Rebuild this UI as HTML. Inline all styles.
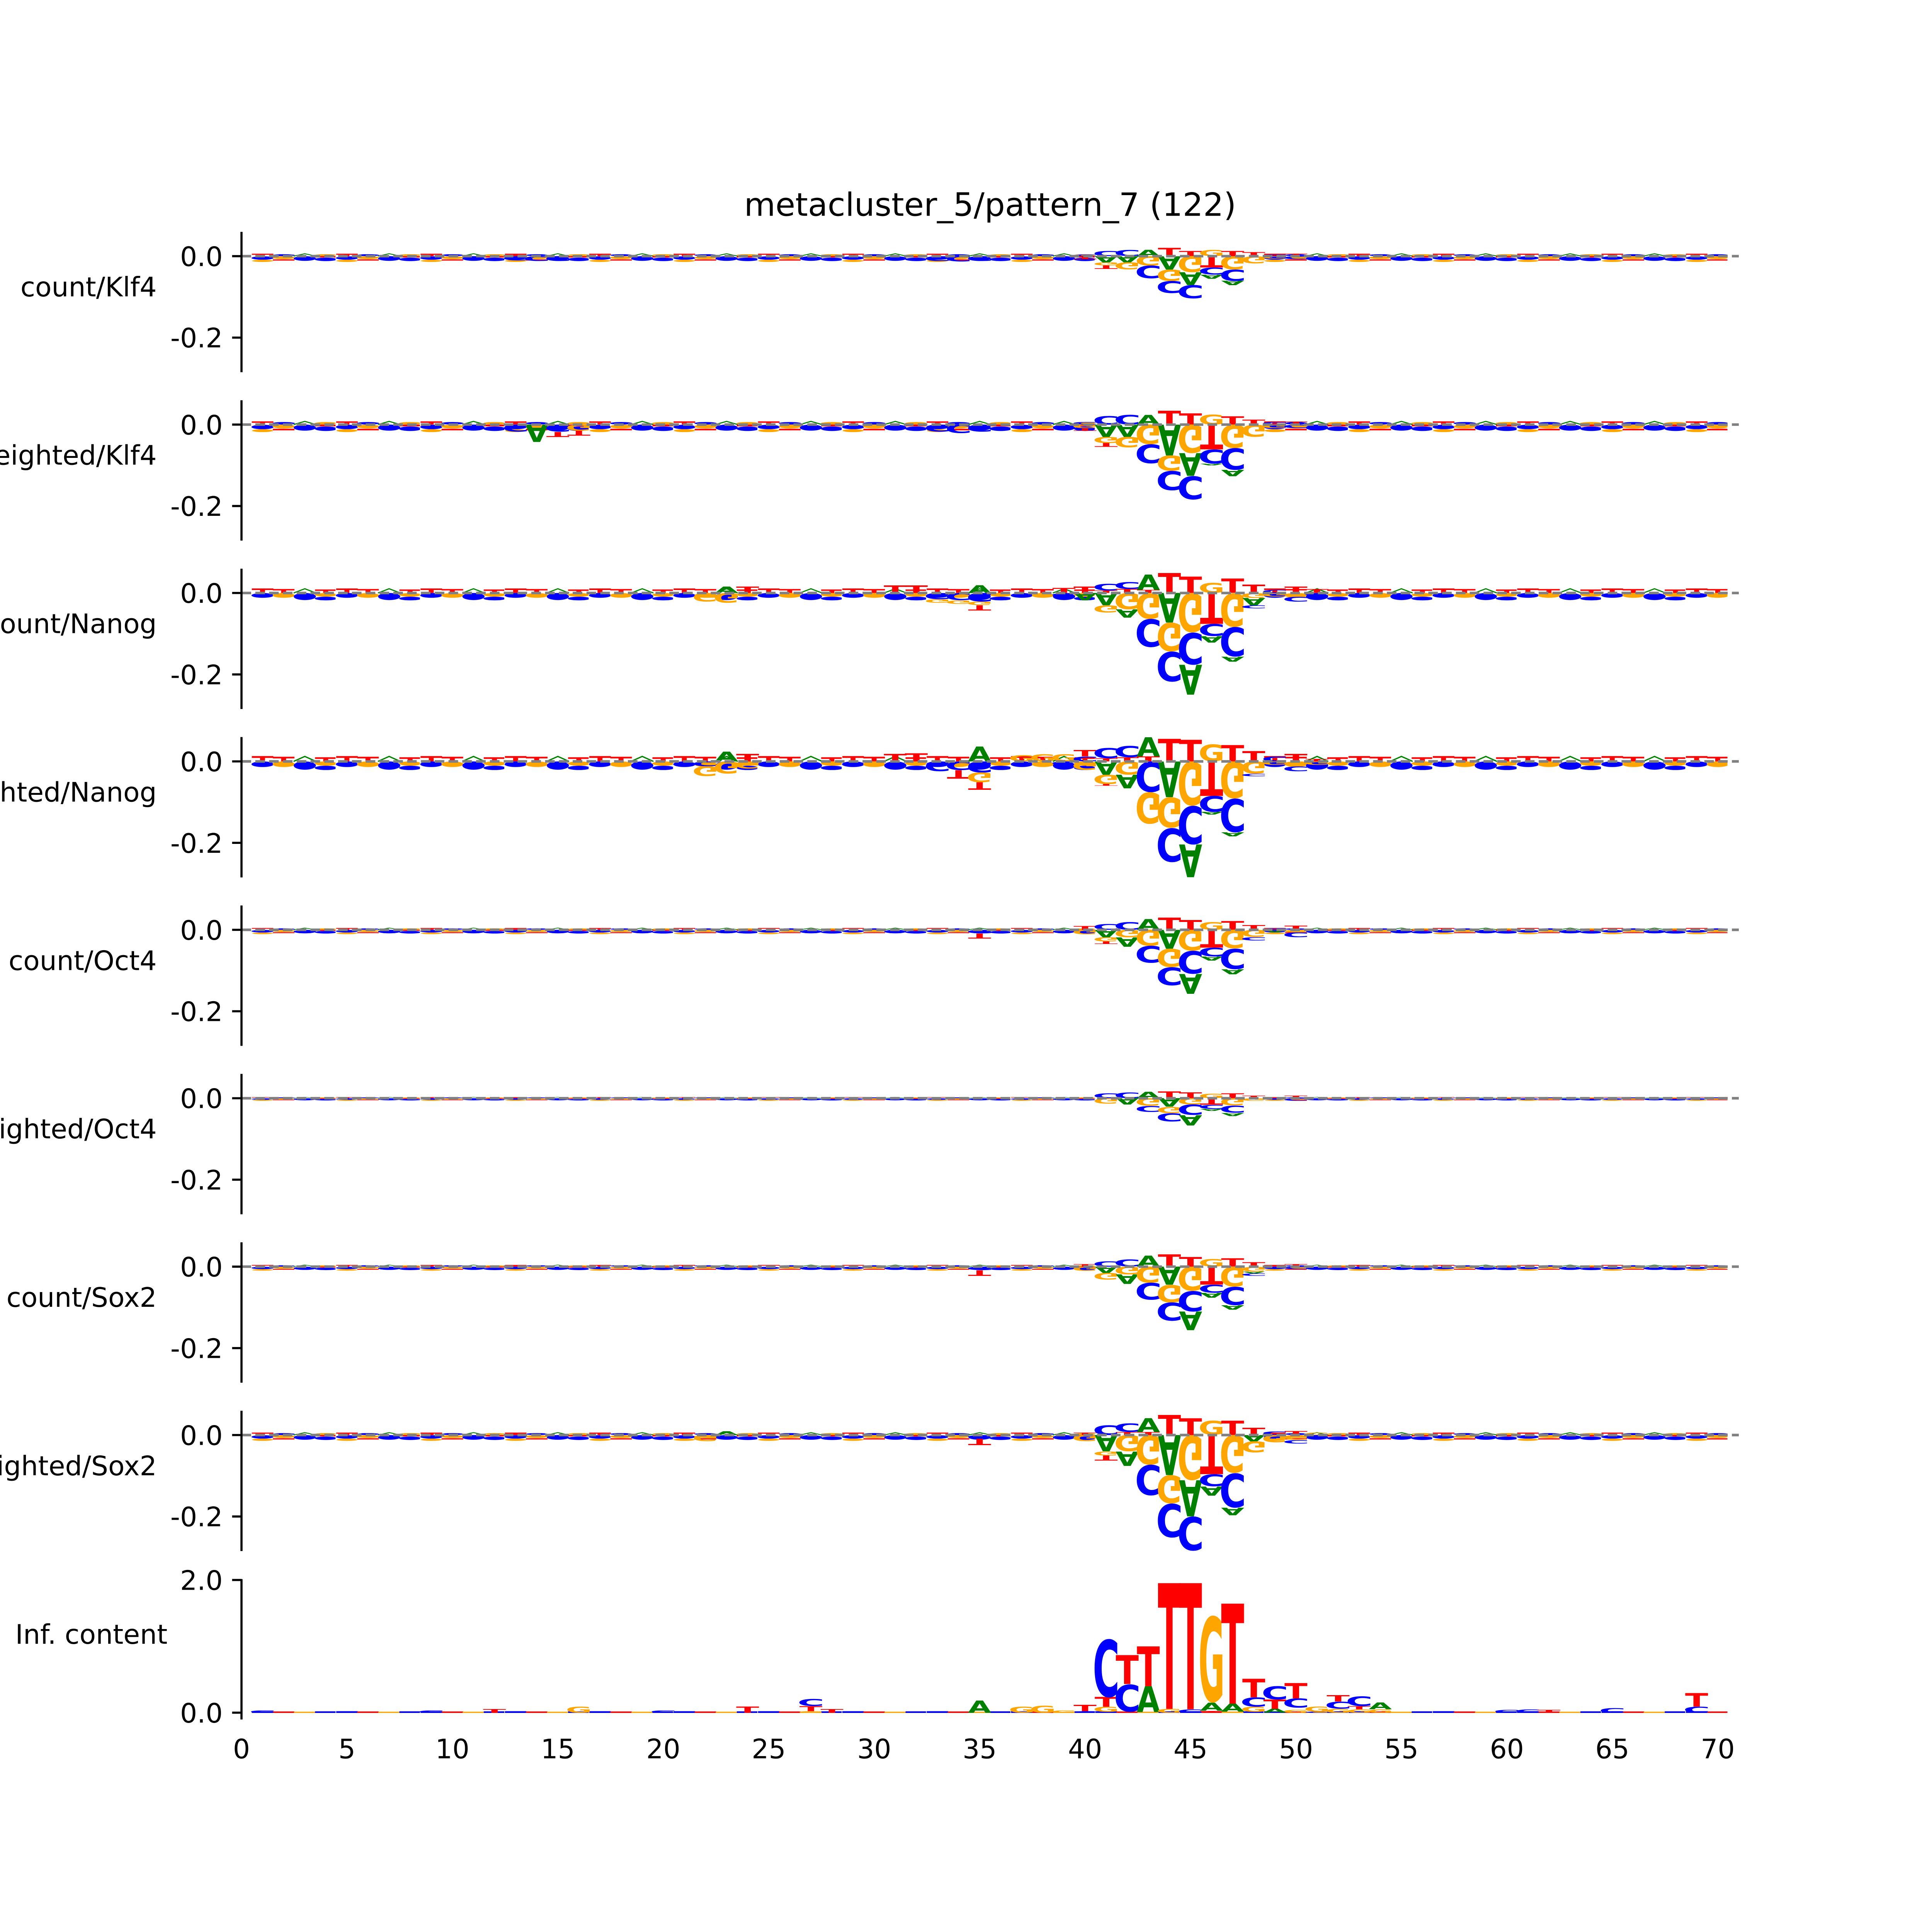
<!DOCTYPE html>
<html><head><meta charset="utf-8"><style>
html,body{margin:0;padding:0;background:#fff;overflow:hidden;width:100%;height:100%;}
svg{display:block;position:absolute;left:0;top:0;width:100vw;height:100vh;}
text{font-family:"DejaVu Sans","Liberation Sans",sans-serif;}
.L text{font-weight:bold;font-size:100px;}
.a{fill:#008000}.c{fill:#0000ff}.g{fill:#ffa500}.t{fill:#ff0000}
.tk{font-size:21.78px;fill:#000}
.ti{font-size:26.13px;fill:#000}
</style></head><body>
<svg xmlns="http://www.w3.org/2000/svg" viewBox="0 0 1568 1568" preserveAspectRatio="none">
<rect x="0" y="0" width="1568" height="1568" fill="#fff"/>
<defs>
<pattern id="bgA" patternUnits="userSpaceOnUse" x="203.87" y="0" width="68.464" height="24">
<rect x="0.5" y="10" width="17.5" height="0.9" fill="#f00"/><rect x="7.2" y="10.9" width="4" height="1.1" fill="#f00"/>
<ellipse cx="9.25" cy="13.5" rx="9" ry="1.4" fill="#00f"/><ellipse cx="9.25" cy="15.8" rx="8.5" ry="0.9" fill="#ffa500"/>
<ellipse cx="26.4" cy="11.2" rx="9" ry="0.8" fill="#00f"/><ellipse cx="26.4" cy="13.2" rx="9" ry="1.2" fill="#ffa500"/>
<rect x="17.6" y="14.6" width="17.5" height="1" fill="#f00"/>
<polyline points="34.4,12 43.5,10 52.6,12" fill="none" stroke="#008000" stroke-width="0.7"/>
<ellipse cx="43.5" cy="13.9" rx="9" ry="1.9" fill="#00f"/>
<ellipse cx="60.6" cy="11.2" rx="9" ry="0.8" fill="#ffa500"/><rect x="51.8" y="12" width="17.5" height="1.1" fill="#f00"/>
<ellipse cx="60.6" cy="14.6" rx="9" ry="1.4" fill="#00f"/>
</pattern>
<pattern id="bgB" patternUnits="userSpaceOnUse" x="203.87" y="0" width="68.464" height="24">
<rect x="0.5" y="8.8" width="17.5" height="1.1" fill="#f00"/><rect x="7.2" y="9.9" width="4" height="2.1" fill="#f00"/>
<ellipse cx="9.25" cy="13.7" rx="9" ry="1.7" fill="#00f"/>
<rect x="17.6" y="9.2" width="17.5" height="1" fill="#f00"/><rect x="24.3" y="10.2" width="4" height="1.8" fill="#f00"/>
<ellipse cx="26.4" cy="13.7" rx="9" ry="1.7" fill="#ffa500"/>
<polyline points="34.4,12 43.5,9 52.6,12" fill="none" stroke="#008000" stroke-width="0.8"/>
<ellipse cx="43.5" cy="14.5" rx="9" ry="2.5" fill="#00f"/>
<rect x="51.8" y="9.5" width="17.5" height="1" fill="#f00"/><rect x="58.5" y="10.5" width="4" height="1.5" fill="#f00"/>
<ellipse cx="60.6" cy="13.3" rx="9" ry="1.3" fill="#ffa500"/><ellipse cx="60.6" cy="15.9" rx="9" ry="1.3" fill="#00f"/>
</pattern>
<pattern id="bgC" patternUnits="userSpaceOnUse" x="203.87" y="0" width="68.464" height="24">
<rect x="0.5" y="10.6" width="17.5" height="1.4" fill="#00f"/>
<rect x="17.6" y="10.8" width="17.5" height="1.2" fill="#f00"/>
<rect x="34.7" y="11" width="17.5" height="1" fill="#ffa500"/>
<rect x="51.8" y="10.7" width="17.5" height="1.3" fill="#00f"/>
</pattern>
</defs>

<!-- Title -->
<text class="ti" x="803.6" y="175.1" text-anchor="middle">metacluster_5/pattern_7 (122)</text>

<!-- backgrounds -->
<g transform="translate(0,207.9) scale(1,1.0) translate(0,-12)"><rect x="203.87" y="0" width="684.64" height="24" fill="url(#bgA)"/><rect x="1025.44" y="0" width="376.55" height="24" fill="url(#bgA)"/></g>
<g transform="translate(0,344.58) scale(1,1.3) translate(0,-12)"><rect x="203.87" y="0" width="684.64" height="24" fill="url(#bgA)"/><rect x="1025.44" y="0" width="376.55" height="24" fill="url(#bgA)"/></g>
<g transform="translate(0,481.27) scale(1,1.15) translate(0,-12)"><rect x="203.87" y="0" width="684.64" height="24" fill="url(#bgB)"/><rect x="1025.44" y="0" width="376.55" height="24" fill="url(#bgB)"/></g>
<g transform="translate(0,617.95) scale(1,1.35) translate(0,-12)"><rect x="203.87" y="0" width="684.64" height="24" fill="url(#bgB)"/><rect x="1025.44" y="0" width="376.55" height="24" fill="url(#bgB)"/></g>
<g transform="translate(0,754.63) scale(1,0.75) translate(0,-12)"><rect x="203.87" y="0" width="684.64" height="24" fill="url(#bgA)"/><rect x="1025.44" y="0" width="376.55" height="24" fill="url(#bgA)"/></g>
<g transform="translate(0,891.32) scale(1,0.45) translate(0,-12)"><rect x="203.87" y="0" width="684.64" height="24" fill="url(#bgA)"/><rect x="1025.44" y="0" width="376.55" height="24" fill="url(#bgA)"/></g>
<g transform="translate(0,1028) scale(1,0.7) translate(0,-12)"><rect x="203.87" y="0" width="684.64" height="24" fill="url(#bgA)"/><rect x="1025.44" y="0" width="376.55" height="24" fill="url(#bgA)"/></g>
<g transform="translate(0,1164.68) scale(1,1.0) translate(0,-12)"><rect x="203.87" y="0" width="684.64" height="24" fill="url(#bgA)"/><rect x="1025.44" y="0" width="376.55" height="24" fill="url(#bgA)"/></g>
<g transform="translate(0,1390.2) translate(0,-12)"><rect x="203.87" y="0" width="1198.1" height="24" fill="url(#bgC)"/></g>

<!-- Panel 0: count/Klf4 -->
<g class="L" transform="translate(0,207.9)">
<text class="c" transform="translate(871.4,0) scale(18.5,1.5) matrix(.016026,0,0,.013228,-.088141,-.018519)">C</text>
<text class="t" transform="translate(871.4,0) scale(18.5,-2.5) matrix(.014837,0,0,.013717,-.007418,0)">T</text>
<text class="c" transform="translate(888.51,0) scale(18.5,4.2) matrix(.016026,0,0,.013228,-.088141,-.018519)">C</text>
<text class="a" transform="translate(888.51,0) scale(18.5,-5) matrix(.013193,0,0,.013717,-.010554,0)">A</text>
<text class="g" transform="translate(888.51,5) scale(18.5,-2.5) matrix(.014025,0,0,.013228,-.077139,-.018519)">G</text>
<text class="t" transform="translate(888.51,7.5) scale(18.5,-2.8) matrix(.014837,0,0,.013717,-.007418,0)">T</text>
<text class="c" transform="translate(905.63,0) scale(18.5,5) matrix(.016026,0,0,.013228,-.088141,-.018519)">C</text>
<text class="a" transform="translate(905.63,0) scale(18.5,-5) matrix(.013193,0,0,.013717,-.010554,0)">A</text>
<text class="g" transform="translate(905.63,5) scale(18.5,-5.8) matrix(.014025,0,0,.013228,-.077139,-.018519)">G</text>
<text class="a" transform="translate(922.75,0) scale(18.5,5) matrix(.013193,0,0,.013717,-.010554,0)">A</text>
<text class="g" transform="translate(922.75,0) scale(18.5,-7.5) matrix(.014025,0,0,.013228,-.077139,-.018519)">G</text>
<text class="c" transform="translate(922.75,7.5) scale(18.5,-10.5) matrix(.016026,0,0,.013228,-.088141,-.018519)">C</text>
<text class="t" transform="translate(939.86,0) scale(18.5,6.7) matrix(.014837,0,0,.013717,-.007418,0)">T</text>
<text class="a" transform="translate(939.86,0) scale(18.5,-10.8) matrix(.013193,0,0,.013717,-.010554,0)">A</text>
<text class="g" transform="translate(939.86,10.8) scale(18.5,-9.2) matrix(.014025,0,0,.013228,-.077139,-.018519)">G</text>
<text class="c" transform="translate(939.86,20) scale(18.5,-10) matrix(.016026,0,0,.013228,-.088141,-.018519)">C</text>
<text class="t" transform="translate(956.98,0) scale(18.5,4.2) matrix(.014837,0,0,.013717,-.007418,0)">T</text>
<text class="g" transform="translate(956.98,0) scale(18.5,-13) matrix(.014025,0,0,.013228,-.077139,-.018519)">G</text>
<text class="a" transform="translate(956.98,13) scale(18.5,-10.3) matrix(.013193,0,0,.013717,-.010554,0)">A</text>
<text class="c" transform="translate(956.98,23.3) scale(18.5,-10.9) matrix(.016026,0,0,.013228,-.088141,-.018519)">C</text>
<text class="g" transform="translate(974.09,0) scale(18.5,5) matrix(.014025,0,0,.013228,-.077139,-.018519)">G</text>
<text class="t" transform="translate(974.09,0) scale(18.5,-9.2) matrix(.014837,0,0,.013717,-.007418,0)">T</text>
<text class="c" transform="translate(974.09,9.2) scale(18.5,-5.8) matrix(.016026,0,0,.013228,-.088141,-.018519)">C</text>
<text class="a" transform="translate(974.09,15) scale(18.5,-3.3) matrix(.013193,0,0,.013717,-.010554,0)">A</text>
<text class="t" transform="translate(991.21,0) scale(18.5,4.2) matrix(.014837,0,0,.013717,-.007418,0)">T</text>
<text class="g" transform="translate(991.21,0) scale(18.5,-10.8) matrix(.014025,0,0,.013228,-.077139,-.018519)">G</text>
<text class="c" transform="translate(991.21,10.8) scale(18.5,-9.2) matrix(.016026,0,0,.013228,-.088141,-.018519)">C</text>
<text class="a" transform="translate(991.21,20) scale(18.5,-3.7) matrix(.013193,0,0,.013717,-.010554,0)">A</text>
<text class="t" transform="translate(1008.33,0) scale(18.5,3.3) matrix(.014837,0,0,.013717,-.007418,0)">T</text>
<text class="g" transform="translate(1008.33,0) scale(18.5,-5.8) matrix(.014025,0,0,.013228,-.077139,-.018519)">G</text>
<text class="c" transform="translate(1025.44,0) scale(18.5,1.5) matrix(.016026,0,0,.013228,-.088141,-.018519)">C</text>
<text class="g" transform="translate(1025.44,0) scale(18.5,-2) matrix(.014025,0,0,.013228,-.077139,-.018519)">G</text>
<text class="t" transform="translate(1042.56,0) scale(18.5,2) matrix(.014837,0,0,.013717,-.007418,0)">T</text>
<text class="c" transform="translate(1042.56,0) scale(18.5,-2.5) matrix(.016026,0,0,.013228,-.088141,-.018519)">C</text>
<text class="c" transform="translate(409.27,0) scale(18.5,-3.5) matrix(.016026,0,0,.013228,-.088141,-.018519)">C</text>
<text class="c" transform="translate(426.38,0) scale(18.5,-4) matrix(.016026,0,0,.013228,-.088141,-.018519)">C</text>
<text class="c" transform="translate(443.5,0) scale(18.5,-4) matrix(.016026,0,0,.013228,-.088141,-.018519)">C</text>
<text class="c" transform="translate(751.58,0) scale(18.5,-4) matrix(.016026,0,0,.013228,-.088141,-.018519)">C</text>
<text class="c" transform="translate(768.7,0) scale(18.5,-4.5) matrix(.016026,0,0,.013228,-.088141,-.018519)">C</text>
<text class="c" transform="translate(785.82,0) scale(18.5,-4) matrix(.016026,0,0,.013228,-.088141,-.018519)">C</text>
</g>

<!-- Panel 1: weighted/Klf4 -->
<g class="L" transform="translate(0,344.58)">
<text class="c" transform="translate(871.4,0) scale(18.5,2) matrix(.016026,0,0,.013228,-.088141,-.018519)">C</text>
<text class="g" transform="translate(871.4,0) scale(18.5,-3) matrix(.014025,0,0,.013228,-.077139,-.018519)">G</text>
<text class="t" transform="translate(871.4,3) scale(18.5,-2) matrix(.014837,0,0,.013717,-.007418,0)">T</text>
<text class="c" transform="translate(888.51,0) scale(18.5,7) matrix(.016026,0,0,.013228,-.088141,-.018519)">C</text>
<text class="a" transform="translate(888.51,0) scale(18.5,-10) matrix(.013193,0,0,.013717,-.010554,0)">A</text>
<text class="g" transform="translate(888.51,10) scale(18.5,-5) matrix(.014025,0,0,.013228,-.077139,-.018519)">G</text>
<text class="t" transform="translate(888.51,15) scale(18.5,-3) matrix(.014837,0,0,.013717,-.007418,0)">T</text>
<text class="c" transform="translate(905.63,0) scale(18.5,8) matrix(.016026,0,0,.013228,-.088141,-.018519)">C</text>
<text class="a" transform="translate(905.63,0) scale(18.5,-10) matrix(.013193,0,0,.013717,-.010554,0)">A</text>
<text class="g" transform="translate(905.63,10) scale(18.5,-8.7) matrix(.014025,0,0,.013228,-.077139,-.018519)">G</text>
<text class="a" transform="translate(922.75,0) scale(18.5,8) matrix(.013193,0,0,.013717,-.010554,0)">A</text>
<text class="g" transform="translate(922.75,0) scale(18.5,-16) matrix(.014025,0,0,.013228,-.077139,-.018519)">G</text>
<text class="c" transform="translate(922.75,16) scale(18.5,-15.7) matrix(.016026,0,0,.013228,-.088141,-.018519)">C</text>
<text class="t" transform="translate(939.86,0) scale(18.5,11.2) matrix(.014837,0,0,.013717,-.007418,0)">T</text>
<text class="a" transform="translate(939.86,0) scale(18.5,-25) matrix(.013193,0,0,.013717,-.010554,0)">A</text>
<text class="g" transform="translate(939.86,25) scale(18.5,-12.5) matrix(.014025,0,0,.013228,-.077139,-.018519)">G</text>
<text class="c" transform="translate(939.86,37.5) scale(18.5,-15.8) matrix(.016026,0,0,.013228,-.088141,-.018519)">C</text>
<text class="t" transform="translate(956.98,0) scale(18.5,9.2) matrix(.014837,0,0,.013717,-.007418,0)">T</text>
<text class="g" transform="translate(956.98,0) scale(18.5,-23.3) matrix(.014025,0,0,.013228,-.077139,-.018519)">G</text>
<text class="a" transform="translate(956.98,23.3) scale(18.5,-18.4) matrix(.013193,0,0,.013717,-.010554,0)">A</text>
<text class="c" transform="translate(956.98,41.7) scale(18.5,-19.1) matrix(.016026,0,0,.013228,-.088141,-.018519)">C</text>
<text class="g" transform="translate(974.09,0) scale(18.5,8.3) matrix(.014025,0,0,.013228,-.077139,-.018519)">G</text>
<text class="t" transform="translate(974.09,0) scale(18.5,-20) matrix(.014837,0,0,.013717,-.007418,0)">T</text>
<text class="c" transform="translate(974.09,20) scale(18.5,-11.7) matrix(.016026,0,0,.013228,-.088141,-.018519)">C</text>
<text class="a" transform="translate(974.09,31.7) scale(18.5,-1.5) matrix(.013193,0,0,.013717,-.010554,0)">A</text>
<text class="t" transform="translate(991.21,0) scale(18.5,6.7) matrix(.014837,0,0,.013717,-.007418,0)">T</text>
<text class="g" transform="translate(991.21,0) scale(18.5,-19) matrix(.014025,0,0,.013228,-.077139,-.018519)">G</text>
<text class="c" transform="translate(991.21,19) scale(18.5,-17.7) matrix(.016026,0,0,.013228,-.088141,-.018519)">C</text>
<text class="a" transform="translate(991.21,36.7) scale(18.5,-5) matrix(.013193,0,0,.013717,-.010554,0)">A</text>
<text class="t" transform="translate(1008.33,0) scale(18.5,4) matrix(.014837,0,0,.013717,-.007418,0)">T</text>
<text class="g" transform="translate(1008.33,0) scale(18.5,-10) matrix(.014025,0,0,.013228,-.077139,-.018519)">G</text>
<text class="c" transform="translate(1025.44,0) scale(18.5,2) matrix(.016026,0,0,.013228,-.088141,-.018519)">C</text>
<text class="g" transform="translate(1025.44,0) scale(18.5,-3) matrix(.014025,0,0,.013228,-.077139,-.018519)">G</text>
<text class="t" transform="translate(1042.56,0) scale(18.5,2.5) matrix(.014837,0,0,.013717,-.007418,0)">T</text>
<text class="c" transform="translate(1042.56,0) scale(18.5,-3) matrix(.016026,0,0,.013228,-.088141,-.018519)">C</text>
<text class="c" transform="translate(409.27,0) scale(18.5,-6) matrix(.016026,0,0,.013228,-.088141,-.018519)">C</text>
<text class="a" transform="translate(426.38,0) scale(18.5,-14) matrix(.013193,0,0,.013717,-.010554,0)">A</text>
<text class="c" transform="translate(443.5,0) scale(18.5,-6) matrix(.016026,0,0,.013228,-.088141,-.018519)">C</text>
<text class="t" transform="translate(443.5,6) scale(18.5,-4) matrix(.014837,0,0,.013717,-.007418,0)">T</text>
<text class="g" transform="translate(460.61,0) scale(18.5,-5) matrix(.014025,0,0,.013228,-.077139,-.018519)">G</text>
<text class="t" transform="translate(460.61,5) scale(18.5,-4) matrix(.014837,0,0,.013717,-.007418,0)">T</text>
<text class="c" transform="translate(751.58,0) scale(18.5,-6) matrix(.016026,0,0,.013228,-.088141,-.018519)">C</text>
<text class="c" transform="translate(768.7,0) scale(18.5,-7) matrix(.016026,0,0,.013228,-.088141,-.018519)">C</text>
<text class="c" transform="translate(785.82,0) scale(18.5,-6) matrix(.016026,0,0,.013228,-.088141,-.018519)">C</text>
</g>

<!-- Panel 2: count/Nanog -->
<g class="L" transform="translate(0,481.27)">
<text class="t" transform="translate(854.28,0) scale(18.5,4) matrix(.014837,0,0,.013717,-.007418,0)">T</text>
<text class="c" transform="translate(854.28,0) scale(18.5,-3) matrix(.016026,0,0,.013228,-.088141,-.018519)">C</text>
<text class="t" transform="translate(871.4,0) scale(18.5,5) matrix(.014837,0,0,.013717,-.007418,0)">T</text>
<text class="a" transform="translate(871.4,0) scale(18.5,-5.8) matrix(.013193,0,0,.013717,-.010554,0)">A</text>
<text class="t" transform="translate(888.51,0) scale(18.5,2) matrix(.014837,0,0,.013717,-.007418,0)">T</text>
<text class="c" transform="translate(888.51,-2) scale(18.5,5.5) matrix(.016026,0,0,.013228,-.088141,-.018519)">C</text>
<text class="a" transform="translate(888.51,0) scale(18.5,-10) matrix(.013193,0,0,.013717,-.010554,0)">A</text>
<text class="g" transform="translate(888.51,10) scale(18.5,-6) matrix(.014025,0,0,.013228,-.077139,-.018519)">G</text>
<text class="t" transform="translate(905.63,0) scale(18.5,3.3) matrix(.014837,0,0,.013717,-.007418,0)">T</text>
<text class="c" transform="translate(905.63,-3.3) scale(18.5,5.7) matrix(.016026,0,0,.013228,-.088141,-.018519)">C</text>
<text class="g" transform="translate(905.63,0) scale(18.5,-13.3) matrix(.014025,0,0,.013228,-.077139,-.018519)">G</text>
<text class="a" transform="translate(905.63,13.3) scale(18.5,-6.7) matrix(.013193,0,0,.013717,-.010554,0)">A</text>
<text class="t" transform="translate(922.75,0) scale(18.5,2.5) matrix(.014837,0,0,.013717,-.007418,0)">T</text>
<text class="a" transform="translate(922.75,-2.5) scale(18.5,12.5) matrix(.013193,0,0,.013717,-.010554,0)">A</text>
<text class="g" transform="translate(922.75,0) scale(18.5,-21) matrix(.014025,0,0,.013228,-.077139,-.018519)">G</text>
<text class="c" transform="translate(922.75,21) scale(18.5,-23) matrix(.016026,0,0,.013228,-.088141,-.018519)">C</text>
<text class="t" transform="translate(939.86,0) scale(18.5,16) matrix(.014837,0,0,.013717,-.007418,0)">T</text>
<text class="a" transform="translate(939.86,0) scale(18.5,-24) matrix(.013193,0,0,.013717,-.010554,0)">A</text>
<text class="g" transform="translate(939.86,24) scale(18.5,-23.5) matrix(.014025,0,0,.013228,-.077139,-.018519)">G</text>
<text class="c" transform="translate(939.86,47.5) scale(18.5,-24.5) matrix(.016026,0,0,.013228,-.088141,-.018519)">C</text>
<text class="t" transform="translate(956.98,0) scale(18.5,13.3) matrix(.014837,0,0,.013717,-.007418,0)">T</text>
<text class="g" transform="translate(956.98,0) scale(18.5,-32) matrix(.014025,0,0,.013228,-.077139,-.018519)">G</text>
<text class="c" transform="translate(956.98,32) scale(18.5,-26.3) matrix(.016026,0,0,.013228,-.088141,-.018519)">C</text>
<text class="a" transform="translate(956.98,58.3) scale(18.5,-24.2) matrix(.013193,0,0,.013717,-.010554,0)">A</text>
<text class="g" transform="translate(974.09,0) scale(18.5,8.3) matrix(.014025,0,0,.013228,-.077139,-.018519)">G</text>
<text class="t" transform="translate(974.09,0) scale(18.5,-25) matrix(.014837,0,0,.013717,-.007418,0)">T</text>
<text class="c" transform="translate(974.09,25) scale(18.5,-10) matrix(.016026,0,0,.013228,-.088141,-.018519)">C</text>
<text class="a" transform="translate(974.09,35) scale(18.5,-5) matrix(.013193,0,0,.013717,-.010554,0)">A</text>
<text class="t" transform="translate(991.21,0) scale(18.5,11.7) matrix(.014837,0,0,.013717,-.007418,0)">T</text>
<text class="g" transform="translate(991.21,0) scale(18.5,-27.5) matrix(.014025,0,0,.013228,-.077139,-.018519)">G</text>
<text class="c" transform="translate(991.21,27.5) scale(18.5,-24.2) matrix(.016026,0,0,.013228,-.088141,-.018519)">C</text>
<text class="a" transform="translate(991.21,51.7) scale(18.5,-4.1) matrix(.013193,0,0,.013717,-.010554,0)">A</text>
<text class="t" transform="translate(1008.33,0) scale(18.5,6.7) matrix(.014837,0,0,.013717,-.007418,0)">T</text>
<text class="g" transform="translate(1008.33,0) scale(18.5,-4) matrix(.014025,0,0,.013228,-.077139,-.018519)">G</text>
<text class="a" transform="translate(1008.33,4) scale(18.5,-6) matrix(.013193,0,0,.013717,-.010554,0)">A</text>
<text class="c" transform="translate(1008.33,10) scale(18.5,-2.5) matrix(.016026,0,0,.013228,-.088141,-.018519)">C</text>
<text class="c" transform="translate(1025.44,0) scale(18.5,2.5) matrix(.016026,0,0,.013228,-.088141,-.018519)">C</text>
<text class="g" transform="translate(1025.44,0) scale(18.5,-3) matrix(.014025,0,0,.013228,-.077139,-.018519)">G</text>
<text class="t" transform="translate(1042.56,0) scale(18.5,5) matrix(.014837,0,0,.013717,-.007418,0)">T</text>
<text class="g" transform="translate(1042.56,0) scale(18.5,-3) matrix(.014025,0,0,.013228,-.077139,-.018519)">G</text>
<text class="c" transform="translate(1042.56,3) scale(18.5,-4) matrix(.016026,0,0,.013228,-.088141,-.018519)">C</text>
<text class="t" transform="translate(1059.67,0) scale(18.5,3) matrix(.014837,0,0,.013717,-.007418,0)">T</text>
<text class="c" transform="translate(1059.67,0) scale(18.5,-2) matrix(.016026,0,0,.013228,-.088141,-.018519)">C</text>
<text class="g" transform="translate(563.31,0) scale(18.5,-7) matrix(.014025,0,0,.013228,-.077139,-.018519)">G</text>
<text class="a" transform="translate(580.42,0) scale(18.5,5) matrix(.013193,0,0,.013717,-.010554,0)">A</text>
<text class="g" transform="translate(580.42,0) scale(18.5,-8) matrix(.014025,0,0,.013228,-.077139,-.018519)">G</text>
<text class="t" transform="translate(597.54,0) scale(18.5,5) matrix(.014837,0,0,.013717,-.007418,0)">T</text>
<text class="t" transform="translate(717.35,0) scale(18.5,6) matrix(.014837,0,0,.013717,-.007418,0)">T</text>
<text class="t" transform="translate(734.47,0) scale(18.5,6) matrix(.014837,0,0,.013717,-.007418,0)">T</text>
<text class="c" transform="translate(751.58,0) scale(18.5,-5) matrix(.016026,0,0,.013228,-.088141,-.018519)">C</text>
<text class="g" transform="translate(751.58,5) scale(18.5,-3) matrix(.014025,0,0,.013228,-.077139,-.018519)">G</text>
<text class="c" transform="translate(768.7,0) scale(18.5,-6) matrix(.016026,0,0,.013228,-.088141,-.018519)">C</text>
<text class="g" transform="translate(768.7,6) scale(18.5,-3) matrix(.014025,0,0,.013228,-.077139,-.018519)">G</text>
<text class="a" transform="translate(785.82,0) scale(18.5,6.3) matrix(.013193,0,0,.013717,-.010554,0)">A</text>
<text class="c" transform="translate(785.82,0) scale(18.5,-7) matrix(.016026,0,0,.013228,-.088141,-.018519)">C</text>
<text class="g" transform="translate(785.82,7) scale(18.5,-3) matrix(.014025,0,0,.013228,-.077139,-.018519)">G</text>
<text class="t" transform="translate(785.82,10) scale(18.5,-4.3) matrix(.014837,0,0,.013717,-.007418,0)">T</text>
</g>

<!-- Panel 3: weighted/Nanog -->
<g class="L" transform="translate(0,617.95)">
<text class="g" transform="translate(854.28,0) scale(18.5,6) matrix(.014025,0,0,.013228,-.077139,-.018519)">G</text>
<text class="c" transform="translate(854.28,0) scale(18.5,-3) matrix(.016026,0,0,.013228,-.088141,-.018519)">C</text>
<text class="c" transform="translate(871.4,0) scale(18.5,4) matrix(.016026,0,0,.013228,-.088141,-.018519)">C</text>
<text class="t" transform="translate(871.4,-4) scale(18.5,5) matrix(.014837,0,0,.013717,-.007418,0)">T</text>
<text class="g" transform="translate(871.4,0) scale(18.5,-6.7) matrix(.014025,0,0,.013228,-.077139,-.018519)">G</text>
<text class="t" transform="translate(888.51,0) scale(18.5,2.5) matrix(.014837,0,0,.013717,-.007418,0)">T</text>
<text class="c" transform="translate(888.51,-2.5) scale(18.5,8.5) matrix(.016026,0,0,.013228,-.088141,-.018519)">C</text>
<text class="a" transform="translate(888.51,0) scale(18.5,-10.8) matrix(.013193,0,0,.013717,-.010554,0)">A</text>
<text class="g" transform="translate(888.51,10.8) scale(18.5,-7.5) matrix(.014025,0,0,.013228,-.077139,-.018519)">G</text>
<text class="t" transform="translate(888.51,18.3) scale(18.5,-1.5) matrix(.014837,0,0,.013717,-.007418,0)">T</text>
<text class="t" transform="translate(905.63,0) scale(18.5,3.3) matrix(.014837,0,0,.013717,-.007418,0)">T</text>
<text class="c" transform="translate(905.63,-3.3) scale(18.5,9.2) matrix(.016026,0,0,.013228,-.088141,-.018519)">C</text>
<text class="g" transform="translate(905.63,0) scale(18.5,-10.8) matrix(.014025,0,0,.013228,-.077139,-.018519)">G</text>
<text class="a" transform="translate(905.63,10.8) scale(18.5,-10.9) matrix(.013193,0,0,.013717,-.010554,0)">A</text>
<text class="t" transform="translate(922.75,0) scale(18.5,4) matrix(.014837,0,0,.013717,-.007418,0)">T</text>
<text class="a" transform="translate(922.75,-4) scale(18.5,15.5) matrix(.013193,0,0,.013717,-.010554,0)">A</text>
<text class="c" transform="translate(922.75,0) scale(18.5,-25) matrix(.016026,0,0,.013228,-.088141,-.018519)">C</text>
<text class="g" transform="translate(922.75,25) scale(18.5,-25.8) matrix(.014025,0,0,.013228,-.077139,-.018519)">G</text>
<text class="t" transform="translate(939.86,0) scale(18.5,18.3) matrix(.014837,0,0,.013717,-.007418,0)">T</text>
<text class="a" transform="translate(939.86,0) scale(18.5,-29) matrix(.013193,0,0,.013717,-.010554,0)">A</text>
<text class="g" transform="translate(939.86,29) scale(18.5,-25) matrix(.014025,0,0,.013228,-.077139,-.018519)">G</text>
<text class="c" transform="translate(939.86,54) scale(18.5,-27.7) matrix(.016026,0,0,.013228,-.088141,-.018519)">C</text>
<text class="t" transform="translate(956.98,0) scale(18.5,17.5) matrix(.014837,0,0,.013717,-.007418,0)">T</text>
<text class="g" transform="translate(956.98,0) scale(18.5,-36) matrix(.014025,0,0,.013228,-.077139,-.018519)">G</text>
<text class="c" transform="translate(956.98,36) scale(18.5,-31.5) matrix(.016026,0,0,.013228,-.088141,-.018519)">C</text>
<text class="a" transform="translate(956.98,67.5) scale(18.5,-26.5) matrix(.013193,0,0,.013717,-.010554,0)">A</text>
<text class="g" transform="translate(974.09,0) scale(18.5,14) matrix(.014025,0,0,.013228,-.077139,-.018519)">G</text>
<text class="t" transform="translate(974.09,0) scale(18.5,-28) matrix(.014837,0,0,.013717,-.007418,0)">T</text>
<text class="c" transform="translate(974.09,28) scale(18.5,-13) matrix(.016026,0,0,.013228,-.088141,-.018519)">C</text>
<text class="a" transform="translate(974.09,41) scale(18.5,-2.3) matrix(.013193,0,0,.013717,-.010554,0)">A</text>
<text class="t" transform="translate(991.21,0) scale(18.5,13.3) matrix(.014837,0,0,.013717,-.007418,0)">T</text>
<text class="g" transform="translate(991.21,0) scale(18.5,-30) matrix(.014025,0,0,.013228,-.077139,-.018519)">G</text>
<text class="c" transform="translate(991.21,30) scale(18.5,-27.5) matrix(.016026,0,0,.013228,-.088141,-.018519)">C</text>
<text class="a" transform="translate(991.21,57.5) scale(18.5,-3.3) matrix(.013193,0,0,.013717,-.010554,0)">A</text>
<text class="t" transform="translate(1008.33,0) scale(18.5,8.3) matrix(.014837,0,0,.013717,-.007418,0)">T</text>
<text class="g" transform="translate(1008.33,0) scale(18.5,-10) matrix(.014025,0,0,.013228,-.077139,-.018519)">G</text>
<text class="c" transform="translate(1008.33,10) scale(18.5,-2) matrix(.016026,0,0,.013228,-.088141,-.018519)">C</text>
<text class="c" transform="translate(1025.44,0) scale(18.5,4) matrix(.016026,0,0,.013228,-.088141,-.018519)">C</text>
<text class="g" transform="translate(1025.44,0) scale(18.5,-3) matrix(.014025,0,0,.013228,-.077139,-.018519)">G</text>
<text class="t" transform="translate(1042.56,0) scale(18.5,6) matrix(.014837,0,0,.013717,-.007418,0)">T</text>
<text class="g" transform="translate(1042.56,0) scale(18.5,-4) matrix(.014025,0,0,.013228,-.077139,-.018519)">G</text>
<text class="c" transform="translate(1042.56,4) scale(18.5,-4) matrix(.016026,0,0,.013228,-.088141,-.018519)">C</text>
<text class="t" transform="translate(1059.67,0) scale(18.5,2) matrix(.014837,0,0,.013717,-.007418,0)">T</text>
<text class="g" transform="translate(1059.67,0) scale(18.5,-3) matrix(.014025,0,0,.013228,-.077139,-.018519)">G</text>
<text class="c" transform="translate(563.31,0) scale(18.5,-4) matrix(.016026,0,0,.013228,-.088141,-.018519)">C</text>
<text class="g" transform="translate(563.31,4) scale(18.5,-8) matrix(.014025,0,0,.013228,-.077139,-.018519)">G</text>
<text class="a" transform="translate(580.42,0) scale(18.5,8) matrix(.013193,0,0,.013717,-.010554,0)">A</text>
<text class="g" transform="translate(580.42,0) scale(18.5,-10) matrix(.014025,0,0,.013228,-.077139,-.018519)">G</text>
<text class="t" transform="translate(597.54,0) scale(18.5,6) matrix(.014837,0,0,.013717,-.007418,0)">T</text>
<text class="g" transform="translate(597.54,0) scale(18.5,-6) matrix(.014025,0,0,.013228,-.077139,-.018519)">G</text>
<text class="t" transform="translate(717.35,0) scale(18.5,6) matrix(.014837,0,0,.013717,-.007418,0)">T</text>
<text class="t" transform="translate(734.47,0) scale(18.5,6.5) matrix(.014837,0,0,.013717,-.007418,0)">T</text>
<text class="c" transform="translate(751.58,0) scale(18.5,-8) matrix(.016026,0,0,.013228,-.088141,-.018519)">C</text>
<text class="c" transform="translate(768.7,0) scale(18.5,-7) matrix(.016026,0,0,.013228,-.088141,-.018519)">C</text>
<text class="t" transform="translate(768.7,7) scale(18.5,-7) matrix(.014837,0,0,.013717,-.007418,0)">T</text>
<text class="a" transform="translate(785.82,0) scale(18.5,12) matrix(.013193,0,0,.013717,-.010554,0)">A</text>
<text class="c" transform="translate(785.82,0) scale(18.5,-9) matrix(.016026,0,0,.013228,-.088141,-.018519)">C</text>
<text class="g" transform="translate(785.82,9) scale(18.5,-8) matrix(.014025,0,0,.013228,-.077139,-.018519)">G</text>
<text class="t" transform="translate(785.82,17) scale(18.5,-6) matrix(.014837,0,0,.013717,-.007418,0)">T</text>
<text class="g" transform="translate(820.05,0) scale(18.5,5) matrix(.014025,0,0,.013228,-.077139,-.018519)">G</text>
<text class="g" transform="translate(837.17,0) scale(18.5,6) matrix(.014025,0,0,.013228,-.077139,-.018519)">G</text>
</g>

<!-- Panel 4: count/Oct4 -->
<g class="L" transform="translate(0,754.63)">
<text class="t" transform="translate(871.4,0) scale(18.5,3) matrix(.014837,0,0,.013717,-.007418,0)">T</text>
<text class="g" transform="translate(871.4,0) scale(18.5,-3.7) matrix(.014025,0,0,.013228,-.077139,-.018519)">G</text>
<text class="c" transform="translate(888.51,0) scale(18.5,4.7) matrix(.016026,0,0,.013228,-.088141,-.018519)">C</text>
<text class="a" transform="translate(888.51,0) scale(18.5,-6) matrix(.013193,0,0,.013717,-.010554,0)">A</text>
<text class="g" transform="translate(888.51,6) scale(18.5,-3.5) matrix(.014025,0,0,.013228,-.077139,-.018519)">G</text>
<text class="t" transform="translate(888.51,9.5) scale(18.5,-2) matrix(.014837,0,0,.013717,-.007418,0)">T</text>
<text class="c" transform="translate(905.63,0) scale(18.5,6.3) matrix(.016026,0,0,.013228,-.088141,-.018519)">C</text>
<text class="g" transform="translate(905.63,0) scale(18.5,-6.2) matrix(.014025,0,0,.013228,-.077139,-.018519)">G</text>
<text class="a" transform="translate(905.63,6.2) scale(18.5,-7.5) matrix(.013193,0,0,.013717,-.010554,0)">A</text>
<text class="a" transform="translate(922.75,0) scale(18.5,8.8) matrix(.013193,0,0,.013717,-.010554,0)">A</text>
<text class="g" transform="translate(922.75,0) scale(18.5,-13) matrix(.014025,0,0,.013228,-.077139,-.018519)">G</text>
<text class="c" transform="translate(922.75,13) scale(18.5,-14) matrix(.016026,0,0,.013228,-.088141,-.018519)">C</text>
<text class="t" transform="translate(939.86,0) scale(18.5,10) matrix(.014837,0,0,.013717,-.007418,0)">T</text>
<text class="a" transform="translate(939.86,0) scale(18.5,-15.3) matrix(.013193,0,0,.013717,-.010554,0)">A</text>
<text class="g" transform="translate(939.86,15.3) scale(18.5,-15) matrix(.014025,0,0,.013228,-.077139,-.018519)">G</text>
<text class="c" transform="translate(939.86,30.3) scale(18.5,-14.7) matrix(.016026,0,0,.013228,-.088141,-.018519)">C</text>
<text class="t" transform="translate(956.98,0) scale(18.5,8) matrix(.014837,0,0,.013717,-.007418,0)">T</text>
<text class="g" transform="translate(956.98,0) scale(18.5,-17) matrix(.014025,0,0,.013228,-.077139,-.018519)">G</text>
<text class="c" transform="translate(956.98,17) scale(18.5,-18.8) matrix(.016026,0,0,.013228,-.088141,-.018519)">C</text>
<text class="a" transform="translate(956.98,35.8) scale(18.5,-16.2) matrix(.013193,0,0,.013717,-.010554,0)">A</text>
<text class="g" transform="translate(974.09,0) scale(18.5,6.3) matrix(.014025,0,0,.013228,-.077139,-.018519)">G</text>
<text class="t" transform="translate(974.09,0) scale(18.5,-14.5) matrix(.014837,0,0,.013717,-.007418,0)">T</text>
<text class="c" transform="translate(974.09,14.5) scale(18.5,-7.2) matrix(.016026,0,0,.013228,-.088141,-.018519)">C</text>
<text class="a" transform="translate(974.09,21.7) scale(18.5,-3.3) matrix(.013193,0,0,.013717,-.010554,0)">A</text>
<text class="t" transform="translate(991.21,0) scale(18.5,7.2) matrix(.014837,0,0,.013717,-.007418,0)">T</text>
<text class="g" transform="translate(991.21,0) scale(18.5,-15.3) matrix(.014025,0,0,.013228,-.077139,-.018519)">G</text>
<text class="c" transform="translate(991.21,15.3) scale(18.5,-16.7) matrix(.016026,0,0,.013228,-.088141,-.018519)">C</text>
<text class="a" transform="translate(991.21,32) scale(18.5,-4) matrix(.013193,0,0,.013717,-.010554,0)">A</text>
<text class="t" transform="translate(1008.33,0) scale(18.5,3.8) matrix(.014837,0,0,.013717,-.007418,0)">T</text>
<text class="g" transform="translate(1008.33,0) scale(18.5,-6) matrix(.014025,0,0,.013228,-.077139,-.018519)">G</text>
<text class="c" transform="translate(1008.33,6) scale(18.5,-2.7) matrix(.016026,0,0,.013228,-.088141,-.018519)">C</text>
<text class="c" transform="translate(1025.44,0) scale(18.5,1.5) matrix(.016026,0,0,.013228,-.088141,-.018519)">C</text>
<text class="a" transform="translate(1025.44,0) scale(18.5,-2) matrix(.013193,0,0,.013717,-.010554,0)">A</text>
<text class="t" transform="translate(1042.56,0) scale(18.5,3.5) matrix(.014837,0,0,.013717,-.007418,0)">T</text>
<text class="g" transform="translate(1042.56,0) scale(18.5,-2) matrix(.014025,0,0,.013228,-.077139,-.018519)">G</text>
<text class="c" transform="translate(1042.56,2) scale(18.5,-4) matrix(.016026,0,0,.013228,-.088141,-.018519)">C</text>
<text class="c" transform="translate(785.82,0) scale(18.5,-3) matrix(.016026,0,0,.013228,-.088141,-.018519)">C</text>
<text class="t" transform="translate(785.82,3) scale(18.5,-4) matrix(.014837,0,0,.013717,-.007418,0)">T</text>
</g>

<!-- Panel 5: weighted/Oct4 -->
<g class="L" transform="translate(0,891.32)">
<text class="c" transform="translate(888.51,0) scale(18.5,4) matrix(.016026,0,0,.013228,-.088141,-.018519)">C</text>
<text class="g" transform="translate(888.51,0) scale(18.5,-4.5) matrix(.014025,0,0,.013228,-.077139,-.018519)">G</text>
<text class="c" transform="translate(905.63,0) scale(18.5,4.7) matrix(.016026,0,0,.013228,-.088141,-.018519)">C</text>
<text class="a" transform="translate(905.63,0) scale(18.5,-5) matrix(.013193,0,0,.013717,-.010554,0)">A</text>
<text class="a" transform="translate(922.75,0) scale(18.5,5) matrix(.013193,0,0,.013717,-.010554,0)">A</text>
<text class="g" transform="translate(922.75,0) scale(18.5,-6.2) matrix(.014025,0,0,.013228,-.077139,-.018519)">G</text>
<text class="c" transform="translate(922.75,6.2) scale(18.5,-4.8) matrix(.016026,0,0,.013228,-.088141,-.018519)">C</text>
<text class="t" transform="translate(939.86,0) scale(18.5,5.5) matrix(.014837,0,0,.013717,-.007418,0)">T</text>
<text class="a" transform="translate(939.86,0) scale(18.5,-7) matrix(.013193,0,0,.013717,-.010554,0)">A</text>
<text class="g" transform="translate(939.86,7) scale(18.5,-5) matrix(.014025,0,0,.013228,-.077139,-.018519)">G</text>
<text class="c" transform="translate(939.86,12) scale(18.5,-6.7) matrix(.016026,0,0,.013228,-.088141,-.018519)">C</text>
<text class="t" transform="translate(956.98,0) scale(18.5,4.7) matrix(.014837,0,0,.013717,-.007418,0)">T</text>
<text class="g" transform="translate(956.98,0) scale(18.5,-5) matrix(.014025,0,0,.013228,-.077139,-.018519)">G</text>
<text class="c" transform="translate(956.98,5) scale(18.5,-8.7) matrix(.016026,0,0,.013228,-.088141,-.018519)">C</text>
<text class="a" transform="translate(956.98,13.7) scale(18.5,-8.3) matrix(.013193,0,0,.013717,-.010554,0)">A</text>
<text class="g" transform="translate(974.09,0) scale(18.5,3.8) matrix(.014025,0,0,.013228,-.077139,-.018519)">G</text>
<text class="t" transform="translate(974.09,0) scale(18.5,-5.3) matrix(.014837,0,0,.013717,-.007418,0)">T</text>
<text class="c" transform="translate(974.09,5.3) scale(18.5,-3.4) matrix(.016026,0,0,.013228,-.088141,-.018519)">C</text>
<text class="a" transform="translate(974.09,8.7) scale(18.5,-1.6) matrix(.013193,0,0,.013717,-.010554,0)">A</text>
<text class="t" transform="translate(991.21,0) scale(18.5,3.8) matrix(.014837,0,0,.013717,-.007418,0)">T</text>
<text class="g" transform="translate(991.21,0) scale(18.5,-6) matrix(.014025,0,0,.013228,-.077139,-.018519)">G</text>
<text class="c" transform="translate(991.21,6) scale(18.5,-6) matrix(.016026,0,0,.013228,-.088141,-.018519)">C</text>
<text class="a" transform="translate(991.21,12) scale(18.5,-2.5) matrix(.013193,0,0,.013717,-.010554,0)">A</text>
<text class="t" transform="translate(1008.33,0) scale(18.5,2) matrix(.014837,0,0,.013717,-.007418,0)">T</text>
<text class="g" transform="translate(1008.33,0) scale(18.5,-2) matrix(.014025,0,0,.013228,-.077139,-.018519)">G</text>
<text class="t" transform="translate(1042.56,0) scale(18.5,2) matrix(.014837,0,0,.013717,-.007418,0)">T</text>
<text class="c" transform="translate(1042.56,0) scale(18.5,-2) matrix(.016026,0,0,.013228,-.088141,-.018519)">C</text>
</g>

<!-- Panel 6: count/Sox2 -->
<g class="L" transform="translate(0,1028)">
<text class="t" transform="translate(871.4,0) scale(18.5,2) matrix(.014837,0,0,.013717,-.007418,0)">T</text>
<text class="g" transform="translate(871.4,0) scale(18.5,-3.3) matrix(.014025,0,0,.013228,-.077139,-.018519)">G</text>
<text class="c" transform="translate(888.51,0) scale(18.5,4.5) matrix(.016026,0,0,.013228,-.088141,-.018519)">C</text>
<text class="a" transform="translate(888.51,0) scale(18.5,-5) matrix(.013193,0,0,.013717,-.010554,0)">A</text>
<text class="g" transform="translate(888.51,5) scale(18.5,-5.5) matrix(.014025,0,0,.013228,-.077139,-.018519)">G</text>
<text class="c" transform="translate(905.63,0) scale(18.5,6) matrix(.016026,0,0,.013228,-.088141,-.018519)">C</text>
<text class="g" transform="translate(905.63,0) scale(18.5,-6.3) matrix(.014025,0,0,.013228,-.077139,-.018519)">G</text>
<text class="a" transform="translate(905.63,6.3) scale(18.5,-7.7) matrix(.013193,0,0,.013717,-.010554,0)">A</text>
<text class="a" transform="translate(922.75,0) scale(18.5,9) matrix(.013193,0,0,.013717,-.010554,0)">A</text>
<text class="g" transform="translate(922.75,0) scale(18.5,-13) matrix(.014025,0,0,.013228,-.077139,-.018519)">G</text>
<text class="c" transform="translate(922.75,13) scale(18.5,-14) matrix(.016026,0,0,.013228,-.088141,-.018519)">C</text>
<text class="t" transform="translate(939.86,0) scale(18.5,10) matrix(.014837,0,0,.013717,-.007418,0)">T</text>
<text class="a" transform="translate(939.86,0) scale(18.5,-14.7) matrix(.013193,0,0,.013717,-.010554,0)">A</text>
<text class="g" transform="translate(939.86,14.7) scale(18.5,-14.3) matrix(.014025,0,0,.013228,-.077139,-.018519)">G</text>
<text class="c" transform="translate(939.86,29) scale(18.5,-15) matrix(.016026,0,0,.013228,-.088141,-.018519)">C</text>
<text class="t" transform="translate(956.98,0) scale(18.5,7.8) matrix(.014837,0,0,.013717,-.007418,0)">T</text>
<text class="g" transform="translate(956.98,0) scale(18.5,-19.7) matrix(.014025,0,0,.013228,-.077139,-.018519)">G</text>
<text class="c" transform="translate(956.98,19.7) scale(18.5,-16.6) matrix(.016026,0,0,.013228,-.088141,-.018519)">C</text>
<text class="a" transform="translate(956.98,36.3) scale(18.5,-15) matrix(.013193,0,0,.013717,-.010554,0)">A</text>
<text class="g" transform="translate(974.09,0) scale(18.5,6.2) matrix(.014025,0,0,.013228,-.077139,-.018519)">G</text>
<text class="t" transform="translate(974.09,0) scale(18.5,-14.7) matrix(.014837,0,0,.013717,-.007418,0)">T</text>
<text class="c" transform="translate(974.09,14.7) scale(18.5,-6.6) matrix(.016026,0,0,.013228,-.088141,-.018519)">C</text>
<text class="a" transform="translate(974.09,21.3) scale(18.5,-3.9) matrix(.013193,0,0,.013717,-.010554,0)">A</text>
<text class="t" transform="translate(991.21,0) scale(18.5,6.7) matrix(.014837,0,0,.013717,-.007418,0)">T</text>
<text class="g" transform="translate(991.21,0) scale(18.5,-16.3) matrix(.014025,0,0,.013228,-.077139,-.018519)">G</text>
<text class="c" transform="translate(991.21,16.3) scale(18.5,-15) matrix(.016026,0,0,.013228,-.088141,-.018519)">C</text>
<text class="a" transform="translate(991.21,31.3) scale(18.5,-3.7) matrix(.013193,0,0,.013717,-.010554,0)">A</text>
<text class="t" transform="translate(1008.33,0) scale(18.5,3.7) matrix(.014837,0,0,.013717,-.007418,0)">T</text>
<text class="g" transform="translate(1008.33,0) scale(18.5,-4) matrix(.014025,0,0,.013228,-.077139,-.018519)">G</text>
<text class="a" transform="translate(1008.33,4) scale(18.5,-1.5) matrix(.013193,0,0,.013717,-.010554,0)">A</text>
<text class="c" transform="translate(1008.33,5.5) scale(18.5,-2) matrix(.016026,0,0,.013228,-.088141,-.018519)">C</text>
<text class="t" transform="translate(1042.56,0) scale(18.5,2) matrix(.014837,0,0,.013717,-.007418,0)">T</text>
<text class="c" transform="translate(1042.56,0) scale(18.5,-2) matrix(.016026,0,0,.013228,-.088141,-.018519)">C</text>
<text class="c" transform="translate(785.82,0) scale(18.5,-3) matrix(.016026,0,0,.013228,-.088141,-.018519)">C</text>
<text class="t" transform="translate(785.82,3) scale(18.5,-4.5) matrix(.014837,0,0,.013717,-.007418,0)">T</text>
</g>

<!-- Panel 7: weighted/Sox2 -->
<g class="L" transform="translate(0,1164.68)">
<text class="t" transform="translate(871.4,0) scale(18.5,2) matrix(.014837,0,0,.013717,-.007418,0)">T</text>
<text class="g" transform="translate(871.4,0) scale(18.5,-5) matrix(.014025,0,0,.013228,-.077139,-.018519)">G</text>
<text class="c" transform="translate(888.51,0) scale(18.5,8) matrix(.016026,0,0,.013228,-.088141,-.018519)">C</text>
<text class="a" transform="translate(888.51,0) scale(18.5,-13.3) matrix(.013193,0,0,.013717,-.010554,0)">A</text>
<text class="g" transform="translate(888.51,13.3) scale(18.5,-3.4) matrix(.014025,0,0,.013228,-.077139,-.018519)">G</text>
<text class="t" transform="translate(888.51,16.7) scale(18.5,-4.1) matrix(.014837,0,0,.013717,-.007418,0)">T</text>
<text class="t" transform="translate(905.63,0) scale(18.5,2.5) matrix(.014837,0,0,.013717,-.007418,0)">T</text>
<text class="c" transform="translate(905.63,-2.5) scale(18.5,7) matrix(.016026,0,0,.013228,-.088141,-.018519)">C</text>
<text class="g" transform="translate(905.63,0) scale(18.5,-13.3) matrix(.014025,0,0,.013228,-.077139,-.018519)">G</text>
<text class="a" transform="translate(905.63,13.3) scale(18.5,-11.7) matrix(.013193,0,0,.013717,-.010554,0)">A</text>
<text class="t" transform="translate(922.75,0) scale(18.5,2.5) matrix(.014837,0,0,.013717,-.007418,0)">T</text>
<text class="a" transform="translate(922.75,-2.5) scale(18.5,11.2) matrix(.013193,0,0,.013717,-.010554,0)">A</text>
<text class="g" transform="translate(922.75,0) scale(18.5,-24) matrix(.014025,0,0,.013228,-.077139,-.018519)">G</text>
<text class="c" transform="translate(922.75,24) scale(18.5,-25) matrix(.016026,0,0,.013228,-.088141,-.018519)">C</text>
<text class="t" transform="translate(939.86,0) scale(18.5,16.3) matrix(.014837,0,0,.013717,-.007418,0)">T</text>
<text class="a" transform="translate(939.86,0) scale(18.5,-32.5) matrix(.013193,0,0,.013717,-.010554,0)">A</text>
<text class="g" transform="translate(939.86,32.5) scale(18.5,-23) matrix(.014025,0,0,.013228,-.077139,-.018519)">G</text>
<text class="c" transform="translate(939.86,55.5) scale(18.5,-27.8) matrix(.016026,0,0,.013228,-.088141,-.018519)">C</text>
<text class="t" transform="translate(956.98,0) scale(18.5,13.7) matrix(.014837,0,0,.013717,-.007418,0)">T</text>
<text class="g" transform="translate(956.98,0) scale(18.5,-36.7) matrix(.014025,0,0,.013228,-.077139,-.018519)">G</text>
<text class="a" transform="translate(956.98,36.7) scale(18.5,-29.3) matrix(.013193,0,0,.013717,-.010554,0)">A</text>
<text class="c" transform="translate(956.98,66) scale(18.5,-28) matrix(.016026,0,0,.013228,-.088141,-.018519)">C</text>
<text class="g" transform="translate(974.09,0) scale(18.5,11.7) matrix(.014025,0,0,.013228,-.077139,-.018519)">G</text>
<text class="t" transform="translate(974.09,0) scale(18.5,-31.7) matrix(.014837,0,0,.013717,-.007418,0)">T</text>
<text class="c" transform="translate(974.09,31.7) scale(18.5,-10) matrix(.016026,0,0,.013228,-.088141,-.018519)">C</text>
<text class="a" transform="translate(974.09,41.7) scale(18.5,-7.3) matrix(.013193,0,0,.013717,-.010554,0)">A</text>
<text class="t" transform="translate(991.21,0) scale(18.5,11.7) matrix(.014837,0,0,.013717,-.007418,0)">T</text>
<text class="g" transform="translate(991.21,0) scale(18.5,-30.8) matrix(.014025,0,0,.013228,-.077139,-.018519)">G</text>
<text class="c" transform="translate(991.21,30.8) scale(18.5,-28.2) matrix(.016026,0,0,.013228,-.088141,-.018519)">C</text>
<text class="a" transform="translate(991.21,59) scale(18.5,-6) matrix(.013193,0,0,.013717,-.010554,0)">A</text>
<text class="t" transform="translate(1008.33,0) scale(18.5,5.8) matrix(.014837,0,0,.013717,-.007418,0)">T</text>
<text class="a" transform="translate(1008.33,0) scale(18.5,-5) matrix(.013193,0,0,.013717,-.010554,0)">A</text>
<text class="g" transform="translate(1008.33,5) scale(18.5,-9) matrix(.014025,0,0,.013228,-.077139,-.018519)">G</text>
<text class="c" transform="translate(1025.44,0) scale(18.5,3) matrix(.016026,0,0,.013228,-.088141,-.018519)">C</text>
<text class="g" transform="translate(1025.44,0) scale(18.5,-6) matrix(.014025,0,0,.013228,-.077139,-.018519)">G</text>
<text class="t" transform="translate(1042.56,0) scale(18.5,3.3) matrix(.014837,0,0,.013717,-.007418,0)">T</text>
<text class="g" transform="translate(1042.56,0) scale(18.5,-4) matrix(.014025,0,0,.013228,-.077139,-.018519)">G</text>
<text class="c" transform="translate(1042.56,4) scale(18.5,-3) matrix(.016026,0,0,.013228,-.088141,-.018519)">C</text>
<text class="g" transform="translate(1059.67,0) scale(18.5,2) matrix(.014025,0,0,.013228,-.077139,-.018519)">G</text>
<text class="c" transform="translate(785.82,0) scale(18.5,-3) matrix(.016026,0,0,.013228,-.088141,-.018519)">C</text>
<text class="t" transform="translate(785.82,3) scale(18.5,-5) matrix(.014837,0,0,.013717,-.007418,0)">T</text>
<text class="g" transform="translate(563.31,0) scale(18.5,-5) matrix(.014025,0,0,.013228,-.077139,-.018519)">G</text>
<text class="a" transform="translate(580.42,0) scale(18.5,3) matrix(.013193,0,0,.013717,-.010554,0)">A</text>
</g>

<!-- Panel 8: Inf. content -->
<g class="L" transform="translate(0,1390.2)">
<text class="g" transform="translate(888.51,-0.8) scale(18.5,4.2) matrix(.014025,0,0,.013228,-.077139,-.018519)">G</text>
<text class="t" transform="translate(888.51,-5) scale(18.5,8) matrix(.014837,0,0,.013717,-.007418,0)">T</text>
<text class="c" transform="translate(888.51,-12.5) scale(18.5,47.5) matrix(.016026,0,0,.013228,-.088141,-.018519)">C</text>
<text class="c" transform="translate(905.63,-0.8) scale(18.5,22.5) matrix(.016026,0,0,.013228,-.088141,-.018519)">C</text>
<text class="t" transform="translate(905.63,-23.3) scale(18.5,23.4) matrix(.014837,0,0,.013717,-.007418,0)">T</text>
<text class="a" transform="translate(922.75,-0.8) scale(18.5,20.9) matrix(.013193,0,0,.013717,-.010554,0)">A</text>
<text class="t" transform="translate(922.75,-21.7) scale(18.5,32.3) matrix(.014837,0,0,.013717,-.007418,0)">T</text>
<text class="g" transform="translate(939.86,0) scale(18.5,3.3) matrix(.014025,0,0,.013228,-.077139,-.018519)">G</text>
<text class="t" transform="translate(939.86,-3.3) scale(18.5,102) matrix(.014837,0,0,.013717,-.007418,0)">T</text>
<text class="c" transform="translate(956.98,0) scale(18.5,3) matrix(.016026,0,0,.013228,-.088141,-.018519)">C</text>
<text class="t" transform="translate(956.98,-3) scale(18.5,102.3) matrix(.014837,0,0,.013717,-.007418,0)">T</text>
<text class="t" transform="translate(974.09,0) scale(18.5,1.7) matrix(.014837,0,0,.013717,-.007418,0)">T</text>
<text class="a" transform="translate(974.09,-1.7) scale(18.5,6.6) matrix(.013193,0,0,.013717,-.010554,0)">A</text>
<text class="g" transform="translate(974.09,-8.3) scale(18.5,70.7) matrix(.014025,0,0,.013228,-.077139,-.018519)">G</text>
<text class="g" transform="translate(991.21,0) scale(18.5,1) matrix(.014025,0,0,.013228,-.077139,-.018519)">G</text>
<text class="a" transform="translate(991.21,-1) scale(18.5,6.5) matrix(.013193,0,0,.013717,-.010554,0)">A</text>
<text class="t" transform="translate(991.21,-7.5) scale(18.5,81.2) matrix(.014837,0,0,.013717,-.007418,0)">T</text>
<text class="g" transform="translate(1008.33,-0.8) scale(18.5,4.2) matrix(.014025,0,0,.013228,-.077139,-.018519)">G</text>
<text class="c" transform="translate(1008.33,-5) scale(18.5,7.5) matrix(.016026,0,0,.013228,-.088141,-.018519)">C</text>
<text class="t" transform="translate(1008.33,-12.5) scale(18.5,15) matrix(.014837,0,0,.013717,-.007418,0)">T</text>
<text class="a" transform="translate(1025.44,-0.3) scale(18.5,3) matrix(.013193,0,0,.013717,-.010554,0)">A</text>
<text class="t" transform="translate(1025.44,-3.3) scale(18.5,7.5) matrix(.014837,0,0,.013717,-.007418,0)">T</text>
<text class="c" transform="translate(1025.44,-10.8) scale(18.5,10.9) matrix(.016026,0,0,.013228,-.088141,-.018519)">C</text>
<text class="g" transform="translate(1042.56,0) scale(18.5,2.5) matrix(.014025,0,0,.013228,-.077139,-.018519)">G</text>
<text class="c" transform="translate(1042.56,-4.2) scale(18.5,7.5) matrix(.016026,0,0,.013228,-.088141,-.018519)">C</text>
<text class="t" transform="translate(1042.56,-11.7) scale(18.5,12.5) matrix(.014837,0,0,.013717,-.007418,0)">T</text>
<text class="c" transform="translate(1059.67,0) scale(18.5,1) matrix(.016026,0,0,.013228,-.088141,-.018519)">C</text>
<text class="g" transform="translate(1059.67,-1) scale(18.5,4.3) matrix(.014025,0,0,.013228,-.077139,-.018519)">G</text>
<text class="g" transform="translate(1076.79,0) scale(18.5,3.3) matrix(.014025,0,0,.013228,-.077139,-.018519)">G</text>
<text class="c" transform="translate(1076.79,-3.3) scale(18.5,5.9) matrix(.016026,0,0,.013228,-.088141,-.018519)">C</text>
<text class="t" transform="translate(1076.79,-9.2) scale(18.5,5) matrix(.014837,0,0,.013717,-.007418,0)">T</text>
<text class="g" transform="translate(1093.9,0) scale(18.5,3) matrix(.014025,0,0,.013228,-.077139,-.018519)">G</text>
<text class="t" transform="translate(1093.9,-3) scale(18.5,2.5) matrix(.014837,0,0,.013717,-.007418,0)">T</text>
<text class="c" transform="translate(1093.9,-5.5) scale(18.5,8) matrix(.016026,0,0,.013228,-.088141,-.018519)">C</text>
<text class="g" transform="translate(1111.02,0) scale(18.5,3) matrix(.014025,0,0,.013228,-.077139,-.018519)">G</text>
<text class="a" transform="translate(1111.02,-3) scale(18.5,5.4) matrix(.013193,0,0,.013717,-.010554,0)">A</text>
<text class="c" transform="translate(871.4,0) scale(18.5,1.5) matrix(.016026,0,0,.013228,-.088141,-.018519)">C</text>
<text class="t" transform="translate(871.4,-1.5) scale(18.5,5) matrix(.014837,0,0,.013717,-.007418,0)">T</text>
<text class="g" transform="translate(854.28,0) scale(18.5,2) matrix(.014025,0,0,.013228,-.077139,-.018519)">G</text>
<text class="g" transform="translate(648.89,0) scale(18.5,1.5) matrix(.014025,0,0,.013228,-.077139,-.018519)">G</text>
<text class="t" transform="translate(648.89,-1.5) scale(18.5,4) matrix(.014837,0,0,.013717,-.007418,0)">T</text>
<text class="c" transform="translate(648.89,-5.5) scale(18.5,6) matrix(.016026,0,0,.013228,-.088141,-.018519)">C</text>
<text class="t" transform="translate(666,0) scale(18.5,3) matrix(.014837,0,0,.013717,-.007418,0)">T</text>
<text class="a" transform="translate(785.82,0) scale(18.5,10) matrix(.013193,0,0,.013717,-.010554,0)">A</text>
<text class="g" transform="translate(820.05,0) scale(18.5,5) matrix(.014025,0,0,.013228,-.077139,-.018519)">G</text>
<text class="g" transform="translate(837.17,0) scale(18.5,6) matrix(.014025,0,0,.013228,-.077139,-.018519)">G</text>
<text class="t" transform="translate(597.54,0) scale(18.5,5) matrix(.014837,0,0,.013717,-.007418,0)">T</text>
<text class="g" transform="translate(460.61,0) scale(18.5,5) matrix(.014025,0,0,.013228,-.077139,-.018519)">G</text>
<text class="t" transform="translate(392.15,0) scale(18.5,3) matrix(.014837,0,0,.013717,-.007418,0)">T</text>
<text class="c" transform="translate(1367.76,0) scale(18.5,5) matrix(.016026,0,0,.013228,-.088141,-.018519)">C</text>
<text class="t" transform="translate(1367.76,-5) scale(18.5,11) matrix(.014837,0,0,.013717,-.007418,0)">T</text>
<text class="c" transform="translate(1299.3,0) scale(18.5,4) matrix(.016026,0,0,.013228,-.088141,-.018519)">C</text>
<text class="c" transform="translate(1213.72,0) scale(18.5,2.5) matrix(.016026,0,0,.013228,-.088141,-.018519)">C</text>
<text class="c" transform="translate(1230.83,0) scale(18.5,3) matrix(.016026,0,0,.013228,-.088141,-.018519)">C</text>
<text class="t" transform="translate(1247.95,0) scale(18.5,2.5) matrix(.014837,0,0,.013717,-.007418,0)">T</text>
<text class="c" transform="translate(203.87,0) scale(18.5,2) matrix(.016026,0,0,.013228,-.088141,-.018519)">C</text>
<text class="c" transform="translate(340.8,0) scale(18.5,2) matrix(.016026,0,0,.013228,-.088141,-.018519)">C</text>
<text class="c" transform="translate(529.08,0) scale(18.5,2) matrix(.016026,0,0,.013228,-.088141,-.018519)">C</text>
</g>

<!-- dashed zero lines -->
<g stroke="#808080" stroke-width="2.1" stroke-dasharray="7.8 3.4" fill="none">
<line x1="196" y1="207.9" x2="1411.2" y2="207.9"/>
<line x1="196" y1="344.58" x2="1411.2" y2="344.58"/>
<line x1="196" y1="481.27" x2="1411.2" y2="481.27"/>
<line x1="196" y1="617.95" x2="1411.2" y2="617.95"/>
<line x1="196" y1="754.63" x2="1411.2" y2="754.63"/>
<line x1="196" y1="891.32" x2="1411.2" y2="891.32"/>
<line x1="196" y1="1028" x2="1411.2" y2="1028"/>
<line x1="196" y1="1164.68" x2="1411.2" y2="1164.68"/>
</g>

<!-- spines and ticks -->
<g stroke="#000" stroke-width="1.74" fill="none">
<line x1="196" y1="188.16" x2="196" y2="302.06"/>
<line x1="196" y1="324.84" x2="196" y2="438.74"/>
<line x1="196" y1="461.53" x2="196" y2="575.43"/>
<line x1="196" y1="598.21" x2="196" y2="712.11"/>
<line x1="196" y1="734.89" x2="196" y2="848.79"/>
<line x1="196" y1="871.58" x2="196" y2="985.48"/>
<line x1="196" y1="1008.26" x2="196" y2="1122.16"/>
<line x1="196" y1="1144.94" x2="196" y2="1258.84"/>
<line x1="196" y1="1281.62" x2="196" y2="1395.52"/>
<line x1="188.38" y1="207.9" x2="196" y2="207.9"/><line x1="188.38" y1="274" x2="196" y2="274"/>
<line x1="188.38" y1="344.58" x2="196" y2="344.58"/><line x1="188.38" y1="410.68" x2="196" y2="410.68"/>
<line x1="188.38" y1="481.27" x2="196" y2="481.27"/><line x1="188.38" y1="547.37" x2="196" y2="547.37"/>
<line x1="188.38" y1="617.95" x2="196" y2="617.95"/><line x1="188.38" y1="684.05" x2="196" y2="684.05"/>
<line x1="188.38" y1="754.63" x2="196" y2="754.63"/><line x1="188.38" y1="820.73" x2="196" y2="820.73"/>
<line x1="188.38" y1="891.32" x2="196" y2="891.32"/><line x1="188.38" y1="957.42" x2="196" y2="957.42"/>
<line x1="188.38" y1="1028" x2="196" y2="1028"/><line x1="188.38" y1="1094.1" x2="196" y2="1094.1"/>
<line x1="188.38" y1="1164.68" x2="196" y2="1164.68"/><line x1="188.38" y1="1230.78" x2="196" y2="1230.78"/>
<line x1="188.38" y1="1282.3" x2="196" y2="1282.3"/><line x1="188.38" y1="1390" x2="196" y2="1390"/>
</g>

<!-- y tick labels -->
<g class="tk" text-anchor="end">
<text x="180.76" y="215.9">0.0</text><text x="180.76" y="282">-0.2</text>
<text x="180.76" y="352.58">0.0</text><text x="180.76" y="418.68">-0.2</text>
<text x="180.76" y="489.27">0.0</text><text x="180.76" y="555.37">-0.2</text>
<text x="180.76" y="625.95">0.0</text><text x="180.76" y="692.05">-0.2</text>
<text x="180.76" y="762.63">0.0</text><text x="180.76" y="828.73">-0.2</text>
<text x="180.76" y="899.32">0.0</text><text x="180.76" y="965.42">-0.2</text>
<text x="180.76" y="1036">0.0</text><text x="180.76" y="1102.1">-0.2</text>
<text x="180.76" y="1172.68">0.0</text><text x="180.76" y="1238.78">-0.2</text>
<text x="180.76" y="1290.3">2.0</text><text x="180.76" y="1398">0.0</text>
</g>

<!-- y labels -->
<g class="tk" text-anchor="end">
<text x="127.2" y="240.5">count/Klf4</text>
<text x="127.2" y="377.18">weighted/Klf4</text>
<text x="127.2" y="513.87">count/Nanog</text>
<text x="127.2" y="650.55">weighted/Nanog</text>
<text x="127.2" y="787.23">count/Oct4</text>
<text x="127.2" y="923.92">weighted/Oct4</text>
<text x="127.2" y="1060.6">count/Sox2</text>
<text x="127.2" y="1197.28">weighted/Sox2</text>
<text x="135.9" y="1334">Inf. content</text>
</g>

<!-- x tick labels -->
<g class="tk" text-anchor="middle">
<text x="196" y="1427">0</text>
<text x="281.58" y="1427">5</text>
<text x="367.16" y="1427">10</text>
<text x="452.74" y="1427">15</text>
<text x="538.32" y="1427">20</text>
<text x="623.9" y="1427">25</text>
<text x="709.48" y="1427">30</text>
<text x="795.06" y="1427">35</text>
<text x="880.64" y="1427">40</text>
<text x="966.22" y="1427">45</text>
<text x="1051.8" y="1427">50</text>
<text x="1137.38" y="1427">55</text>
<text x="1222.96" y="1427">60</text>
<text x="1308.54" y="1427">65</text>
<text x="1394.12" y="1427">70</text>
</g>
</svg>
</body></html>
